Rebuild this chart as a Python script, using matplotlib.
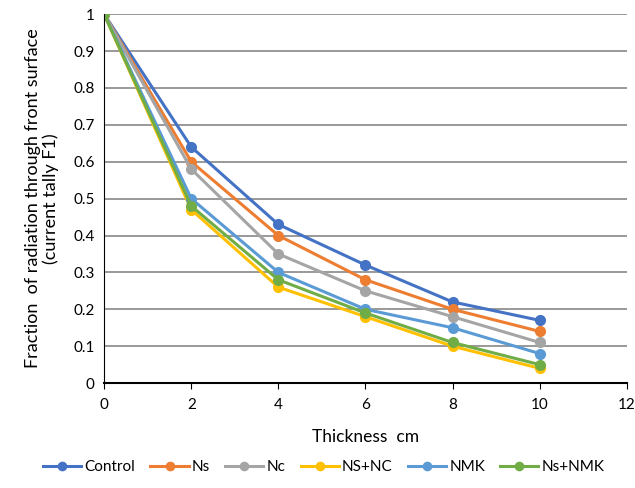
import matplotlib
matplotlib.use("Agg")
import matplotlib.pyplot as plt
from matplotlib.ticker import FuncFormatter

plt.rcParams['font.family'] = ['Lato', 'DejaVu Sans']

thickness = [0, 2, 4, 6, 8, 10]
series_names = ["Control", "Ns", "Nc", "NS+NC", "NMK", "Ns+NMK"]
control = [1, 0.64, 0.43, 0.32, 0.22, 0.17]
ns = [1, 0.60, 0.40, 0.28, 0.20, 0.14]
nc = [1, 0.58, 0.35, 0.25, 0.18, 0.11]
ns_nc = [1, 0.47, 0.26, 0.18, 0.10, 0.04]
nmk = [1, 0.50, 0.30, 0.20, 0.15, 0.08]
ns_nmk = [1, 0.48, 0.28, 0.19, 0.11, 0.05]
colors = ["#4472C4", "#ED7D31", "#A5A5A5", "#FFC000", "#5B9BD5", "#70AD47"]

fig = plt.figure(figsize=(6.35, 4.88), dpi=100)
ax = fig.add_axes([0.164, 0.215, 0.823, 0.756])

for name, vals, c in zip(series_names, [control, ns, nc, ns_nc, nmk, ns_nmk], colors):
    ax.plot(thickness, vals, color=c, lw=2.2, marker='o', markersize=7, label=name)

ax.set_xlim(0, 12)
ax.set_ylim(0, 1)
ax.set_xticks(range(0, 13, 2))
ax.set_yticks([i / 10 for i in range(11)])
ax.yaxis.set_major_formatter(FuncFormatter(lambda v, p: "0" if v == 0 else ("1" if abs(v - 1) < 1e-9 else f"{v:.1f}")))
ax.grid(axis='y', color='#999999', lw=1.4)
ax.set_axisbelow(True)
for s in ['top', 'right']:
    ax.spines[s].set_visible(False)
ax.spines['left'].set_color('black')
ax.spines['bottom'].set_color('black')
ax.spines['bottom'].set_linewidth(1.5)
ax.tick_params(axis='both', labelsize=11, length=0, pad=7)
ax.tick_params(axis='x', length=4, direction='out')
ax.set_xlabel("Thickness  cm", fontsize=12.5, labelpad=12)
ax.set_ylabel("Fraction  of radiation through front surface\n(current tally F1)", fontsize=13, labelpad=10, linespacing=1.1)

fig.legend(loc='lower center', bbox_to_anchor=(0.51, 0.0), ncol=6, frameon=False,
           fontsize=11, handlelength=2.5, columnspacing=1.0, handletextpad=0.2, markerscale=0.85)

fig.savefig("out.png", dpi=100)
